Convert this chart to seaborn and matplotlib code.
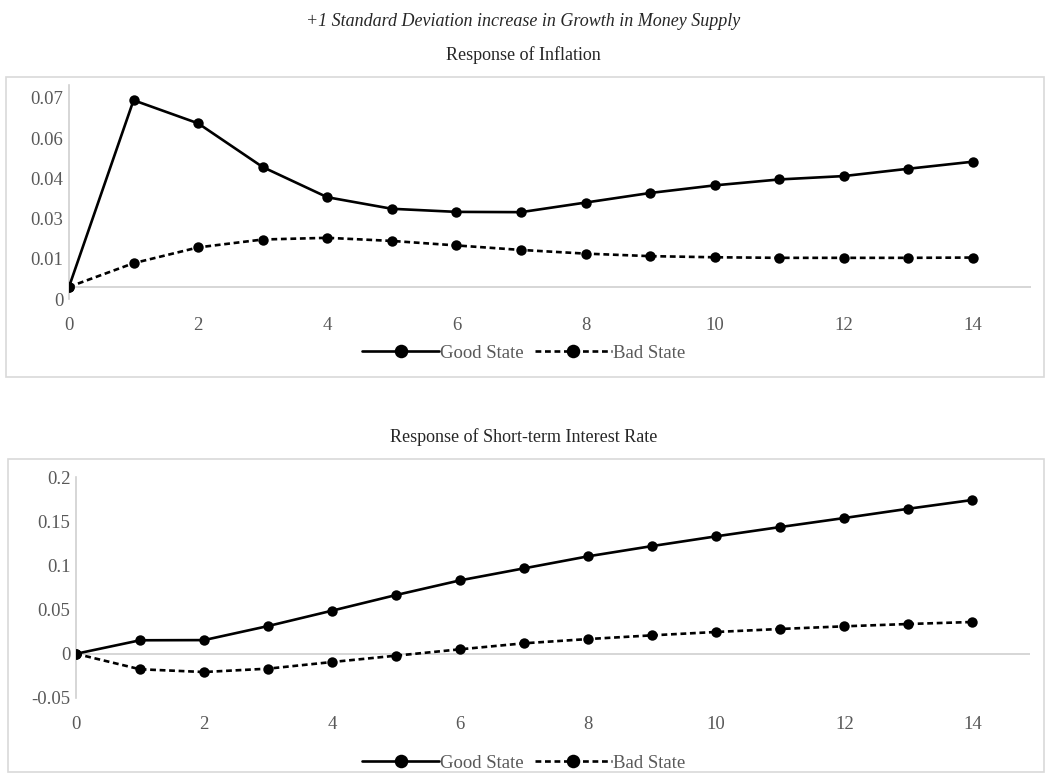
import matplotlib
matplotlib.use("Agg")
import matplotlib.pyplot as plt
import matplotlib.patches as mpatches
import numpy as np
import pandas as pd
import seaborn as sns

# horizon (periods after the shock)
periods = list(range(15))
states = ["Good State", "Bad State"]

# response of inflation
inflation_good = [0.0, 0.0662, 0.0580, 0.0425, 0.0318, 0.0277, 0.0266, 0.0265,
                  0.0299, 0.0333, 0.0360, 0.0381, 0.0393, 0.0419, 0.0444]
inflation_bad = [0.0, 0.0084, 0.0140, 0.0168, 0.0174, 0.0163, 0.0147, 0.0131,
                 0.0118, 0.0109, 0.0105, 0.0103, 0.0103, 0.0103, 0.0104]
inflation_ticks = [-0.0043, 0.0100, 0.0243, 0.0386, 0.0528, 0.0671]
inflation_ticklabels = ["0", "0.01", "0.03", "0.04", "0.06", "0.07"]

# response of short-term interest rate
rate_good = [0.0, 0.0153, 0.0155, 0.0314, 0.0488, 0.0665, 0.0831, 0.0967,
             0.1103, 0.1219, 0.1329, 0.1434, 0.1536, 0.1641, 0.1740]
rate_bad = [0.0, -0.0175, -0.0206, -0.0168, -0.0093, -0.0021, 0.0051, 0.0119,
            0.0167, 0.0209, 0.0247, 0.0281, 0.0311, 0.0337, 0.0360]
rate_ticks = [-0.05, 0, 0.05, 0.1, 0.15, 0.2]
rate_ticklabels = ["-0.05", "0", "0.05", "0.1", "0.15", "0.2"]

x_ticks = [0, 2, 4, 6, 8, 10, 12, 14]

sns.set_style("white")
plt.rcParams["font.family"] = ["Liberation Serif", "DejaVu Serif"]

GREY = "#595959"
AXIS = "#d0d0d0"
W, H = 1047, 774
FS = 13.5


def long_frame(good, bad):
    return pd.DataFrame({
        "period": periods * 2,
        "value": good + bad,
        "state": [states[0]] * len(good) + [states[1]] * len(bad),
    })


def draw_panel(ax, df, ylim, yticks, yticklabels, legend_y):
    sns.lineplot(data=df, x="period", y="value", style="state",
                 style_order=states, color="black",
                 dashes={"Good State": "", "Bad State": (2.2, 1.4)},
                 markers={"Good State": "o", "Bad State": "o"},
                 markersize=7.5, markeredgewidth=0, linewidth=1.9,
                 ax=ax, zorder=3)
    ax.axhline(0, color=AXIS, lw=1.2, zorder=1)
    ax.set_xlim(0, 14.9)
    ax.set_ylim(*ylim)
    ax.set_xticks(x_ticks)
    ax.set_yticks(yticks)
    ax.set_yticklabels(yticklabels)
    ax.set_xlabel("")
    ax.set_ylabel("")
    ax.tick_params(axis="x", length=0, pad=13, labelsize=FS, colors=GREY)
    ax.tick_params(axis="y", length=0, pad=4, labelsize=FS, colors=GREY)
    for side in ["top", "right", "bottom"]:
        ax.spines[side].set_visible(False)
    ax.spines["left"].set_color(AXIS)
    ax.spines["left"].set_linewidth(1.2)
    handles, labels = ax.get_legend_handles_labels()
    ax.legend(handles, labels, loc="center", ncol=2, frameon=False,
              bbox_to_anchor=(0.5, 1 - legend_y / H),
              bbox_transform=ax.figure.transFigure,
              handlelength=4.1, handletextpad=0.05, columnspacing=0.6,
              markerscale=1.3, fontsize=FS, labelcolor=GREY)


fig = plt.figure(figsize=(W / 100, H / 100), dpi=100)

# outer chart frames
for x0, y0, x1, y1 in [(6, 77, 1044, 377), (8, 459, 1044, 772)]:
    fig.patches.append(mpatches.Rectangle(
        (x0 / W, 1 - y1 / H), (x1 - x0) / W, (y1 - y0) / H,
        transform=fig.transFigure, fill=False, edgecolor="#d9d9d9", lw=1.2))

ax1 = fig.add_axes([69 / W, 1 - 299 / H, 962 / W, 214 / H])
draw_panel(ax1, long_frame(inflation_good, inflation_bad),
           (-0.0043, 0.0716), inflation_ticks, inflation_ticklabels, 353)

ax2 = fig.add_axes([76 / W, 1 - 698 / H, 954 / W, 221 / H])
draw_panel(ax2, long_frame(rate_good, rate_bad),
           (-0.05, 0.2), rate_ticks, rate_ticklabels, 763)

fig.text(0.5, 1 - 22 / H, "+1 Standard Deviation increase in Growth in Money Supply",
         ha="center", va="center", fontsize=13, style="italic")
fig.text(0.5, 1 - 55 / H, "Response of Inflation",
         ha="center", va="center", fontsize=13)
fig.text(0.5, 1 - 437 / H, "Response of Short-term Interest Rate",
         ha="center", va="center", fontsize=13)

fig.savefig("out.png", dpi=100)
